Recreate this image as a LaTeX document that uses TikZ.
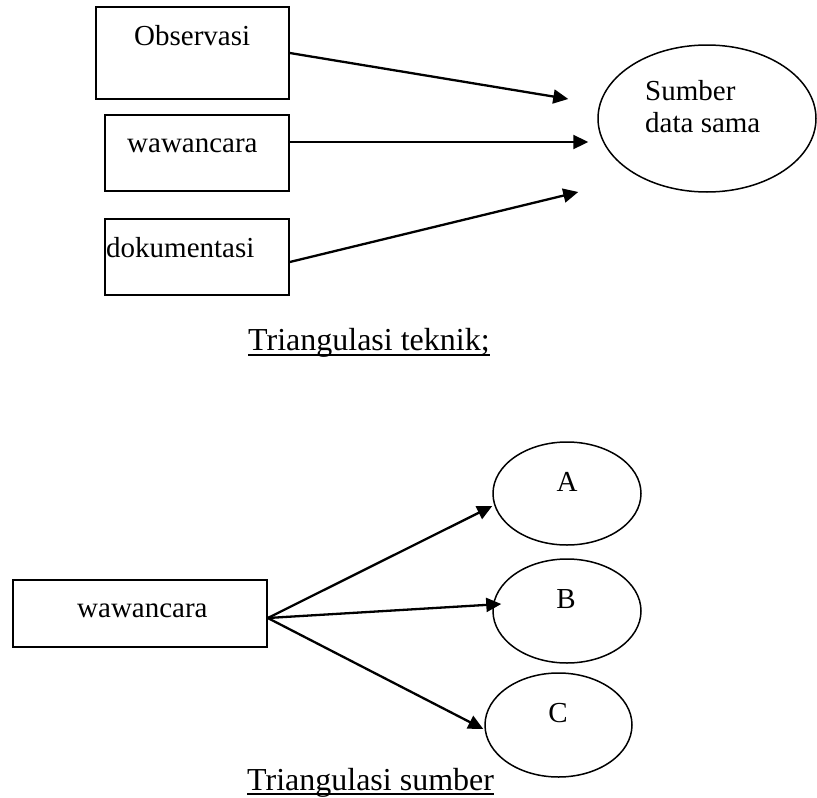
\documentclass[tikz,border=0pt]{standalone}
\usepackage{fontspec}
\setmainfont{Liberation Serif}
\usetikzlibrary{arrows.meta,shapes.geometric,calc}
\tikzset{
  box/.style={draw, line width=1.6pt, rectangle, inner sep=0pt},
  oval/.style={draw, line width=1.5pt, ellipse, inner sep=0pt},
  lbl/.style={inner sep=0pt, anchor=base west, font=\fontsize{29}{34}\selectfont},
  ctr/.style={inner sep=0pt, anchor=base, font=\fontsize{29}{34}\selectfont},
  captext/.style={inner sep=0pt, anchor=base west, font=\fontsize{32}{38}\selectfont},
  link/.style={line width=2.3pt, -{Triangle[length=15pt,width=14pt]}},
  uline/.style={line width=1.4pt},
}
\begin{document}
\begin{tikzpicture}[x=1pt,y=-1pt]
\useasboundingbox (0,0) rectangle (817,798);
\fill[white] (0,0) rectangle (817,798);

% --- technique triangulation ---
\node[box, minimum width=193pt, minimum height=92pt] (obs) at (192.5,53) {};
\node[box, minimum width=184pt, minimum height=76pt] (ww)  at (197,153) {};
\node[box, minimum width=184pt, minimum height=76pt] (dk)  at (197,257) {};
\node[lbl] (tobs) at (134,45)  {Observasi};
\node[lbl] (tww)  at (127,152) {wawancara};
\node[lbl] (tdk)  at (106,257) {dokumentasi};

\node[oval, minimum width=218pt, minimum height=147pt] (src) at (707,118.5) {};
\node[lbl] (ts1) at (645,100) {Sumber};
\node[lbl] (ts2) at (645,132) {data sama};

\draw[link] (obs.east) -- ($(src.west)+(-29,-19.5)$);
\draw[link] ($(ww.east)+(0,-11)$) -- ($(src.west)+(-9,23.5)$);
\draw[link] ($(dk.east)+(0,5)$) -- ($(src.west)+(-19,73.5)$);

\node[captext] (cap1) at (248,350) {Triangulasi teknik;};
\draw[uline] ($(cap1.base west)+(0,5)$) -- ($(cap1.base east)+(0,5)$);

% --- source triangulation ---
\node[box, minimum width=254pt, minimum height=67pt] (bw) at (140,613.5) {};
\node[lbl] (tbw) at (77,617) {wawancara};

\node[oval, minimum width=148pt, minimum height=103pt] (A) at (567,493.5) {};
\node[oval, minimum width=148pt, minimum height=104pt] (B) at (567,611) {};
\node[oval, minimum width=147pt, minimum height=104pt] (C) at (558.5,725) {};
\node[ctr] (tA) at (567,491) {A};
\node[ctr] (tB) at (566,608) {B};
\node[ctr] (tC) at (558,722) {C};

\coordinate (fan) at ($(bw.east)+(0,4.5)$);
\draw[link] (fan) -- ($(A.west)+(0,12.5)$);
\draw[link] (fan) -- ($(B.west)+(9,-7)$);
\draw[link] (fan) -- ($(C.west)+(-1,4)$);

\node[captext] (cap2) at (247,790) {Triangulasi sumber};
\draw[uline] ($(cap2.base west)+(0,4)$) -- ($(cap2.base east)+(0,4)$);
\end{tikzpicture}
\end{document}
